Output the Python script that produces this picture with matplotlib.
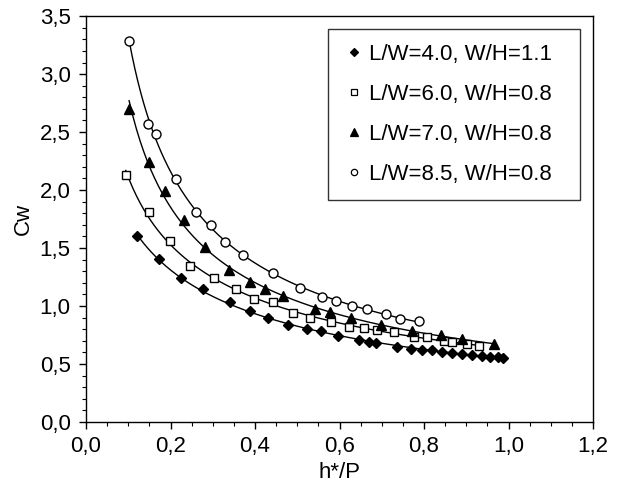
import numpy as np
import matplotlib
matplotlib.use("Agg")
import matplotlib.pyplot as plt
from matplotlib.lines import Line2D
from matplotlib.ticker import MultipleLocator

plt.rcParams["font.family"] = ["Liberation Sans", "DejaVu Sans"]

# L/W=4.0, W/H=1.1 (diamonds)
x_d = [0.12, 0.173, 0.225, 0.277, 0.34, 0.389, 0.431, 0.478, 0.522, 0.556, 0.596, 0.645, 0.669,
       0.687, 0.737, 0.769, 0.796, 0.82, 0.843, 0.867, 0.89, 0.914, 0.937, 0.957, 0.976, 0.988]
y_d = [1.60, 1.405, 1.24, 1.144, 1.034, 0.954, 0.898, 0.84, 0.80, 0.78, 0.74, 0.708, 0.69,
       0.682, 0.645, 0.632, 0.618, 0.616, 0.603, 0.598, 0.589, 0.58, 0.57, 0.562, 0.56, 0.548]

# L/W=6.0, W/H=0.8 (squares)
x_s = [0.094, 0.149, 0.199, 0.246, 0.302, 0.356, 0.398, 0.442, 0.491, 0.529, 0.58, 0.622, 0.658,
       0.689, 0.729, 0.776, 0.808, 0.847, 0.867, 0.902, 0.929]
y_s = [2.13, 1.81, 1.56, 1.345, 1.241, 1.15, 1.063, 1.032, 0.942, 0.897, 0.862, 0.819, 0.808,
       0.79, 0.773, 0.733, 0.733, 0.696, 0.69, 0.675, 0.655]

# L/W=7.0, W/H=0.8 (triangles)
x_t = [0.102, 0.149, 0.186, 0.232, 0.282, 0.338, 0.387, 0.424, 0.466, 0.541, 0.578, 0.626, 0.699,
       0.772, 0.839, 0.89, 0.965]
y_t = [2.70, 2.24, 1.99, 1.739, 1.509, 1.307, 1.204, 1.15, 1.085, 0.972, 0.948, 0.894, 0.837,
       0.783, 0.753, 0.718, 0.675]

# L/W=8.5, W/H=0.8 (circles)
x_c = [0.102, 0.147, 0.165, 0.212, 0.261, 0.296, 0.33, 0.371, 0.443, 0.506, 0.559, 0.592, 0.63,
       0.666, 0.709, 0.742, 0.789]
y_c = [3.29, 2.57, 2.48, 2.098, 1.814, 1.698, 1.555, 1.44, 1.283, 1.152, 1.075, 1.046, 1.0,
       0.977, 0.927, 0.891, 0.874]

labels = ["L/W=4.0, W/H=1.1", "L/W=6.0, W/H=0.8", "L/W=7.0, W/H=0.8", "L/W=8.5, W/H=0.8"]
xtick_vals = [0.0, 0.2, 0.4, 0.6, 0.8, 1.0, 1.2]
xtick_labels = ["0,0", "0,2", "0,4", "0,6", "0,8", "1,0", "1,2"]
ytick_vals = [0.0, 0.5, 1.0, 1.5, 2.0, 2.5, 3.0, 3.5]
ytick_labels = ["0,0", "0,5", "1,0", "1,5", "2,0", "2,5", "3,0", "3,5"]

series = [
    (x_d, y_d, "D", "black", 5.5),
    (x_s, y_s, "s", "white", 6),
    (x_t, y_t, "^", "black", 7.5),
    (x_c, y_c, "o", "white", 6.5),
]

fig = plt.figure(figsize=(6.21, 4.9), dpi=100)
ax = fig.add_axes([0.1385, 0.139, 0.8165, 0.828])

handles = []
for (xs, ys, m, fc, ms), lab in zip(series, labels):
    xs = np.array(xs)
    ys = np.array(ys)
    # smooth trend line through the points (fit in log-log space)
    coef = np.polyfit(np.log(xs), np.log(ys), 2)
    xf = np.linspace(xs.min(), xs.max(), 200)
    yf = np.exp(np.polyval(coef, np.log(xf)))
    ax.plot(xf, yf, color="black", lw=1.0, zorder=2)
    ax.plot(xs, ys, linestyle="none", marker=m, ms=ms, mfc=fc, mec="black", mew=1.0, zorder=3)
    handles.append(Line2D([], [], linestyle="none", marker=m, ms=ms * 0.7, mfc=fc,
                          mec="black", mew=0.9, label=lab))

ax.set_xlim(0, 1.2)
ax.set_ylim(0, 3.5)
ax.set_xticks(xtick_vals)
ax.set_xticklabels(xtick_labels)
ax.set_yticks(ytick_vals)
ax.set_yticklabels(ytick_labels)
ax.xaxis.set_minor_locator(MultipleLocator(0.05))
ax.yaxis.set_minor_locator(MultipleLocator(0.1))
ax.tick_params(which="major", direction="out", length=5, width=1, labelsize=16)
ax.tick_params(axis="y", which="major", pad=6)
ax.tick_params(axis="x", which="major", pad=5)
ax.tick_params(which="minor", direction="out", length=3, width=0.8)
for sp in ax.spines.values():
    sp.set_linewidth(1.0)

ax.set_xlabel("h*/P", fontsize=16, labelpad=4)
ax.set_ylabel("Cw", fontsize=16, labelpad=4)

leg = ax.legend(handles=handles, loc="upper left", bbox_to_anchor=(0.477, 0.5, 0.497, 0.468),
                mode="expand", fontsize=16, frameon=True, fancybox=False, edgecolor="black",
                handlelength=1.0, handletextpad=0.15, labelspacing=0.85, borderpad=0.68,
                borderaxespad=0)
leg.get_frame().set_linewidth(1.0)

fig.savefig("out.png", dpi=100)
